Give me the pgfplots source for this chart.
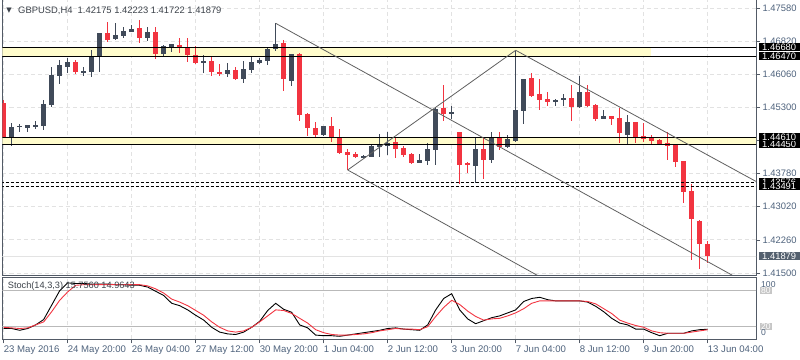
\documentclass[border=0pt]{standalone}
\usepackage{pgfplots}
\pgfplotsset{compat=1.18}
\usepackage{pgfplotstable}
\usepackage{fontspec}
\setmainfont{Liberation Sans}
\newfontfamily\symfont{DejaVu Sans}

\definecolor{bullc}{RGB}{64,74,89}
\definecolor{bearc}{RGB}{242,52,64}
\definecolor{bandc}{RGB}{255,252,204}
\definecolor{gridc}{RGB}{226,226,226}
\definecolor{axc}{RGB}{82,90,102}
\definecolor{labc}{RGB}{78,98,124}
\definecolor{trendc}{RGB}{95,95,95}
\definecolor{curbox}{RGB}{84,96,110}
\definecolor{titc}{RGB}{60,66,74}

\pgfplotstableread{
k o h l c
1 1.44620 1.44941 1.44414 1.44850
2 1.44850 1.44918 1.44735 1.44872
3 1.44827 1.44907 1.44735 1.44895
4 1.44850 1.44987 1.44804 1.44895
5 1.44872 1.45469 1.44781 1.45377
6 1.45354 1.46226 1.45308 1.46043
7 1.46020 1.46387 1.45836 1.46272
8 1.46226 1.46433 1.46089 1.46341
10 1.46111 1.46226 1.46020 1.46134
11 1.46111 1.46616 1.45997 1.46479
12 1.46479 1.47006 1.46111 1.47006
14 1.46869 1.47236 1.46846 1.46961
15 1.46938 1.47144 1.46892 1.47052
16 1.47029 1.47190 1.47029 1.47098
18 1.46892 1.47144 1.46823 1.47029
20 1.46525 1.46731 1.46456 1.46708
21 1.46685 1.46754 1.46570 1.46754
25 1.46318 1.46502 1.46089 1.46364
28 1.46066 1.46318 1.45997 1.46157
30 1.45951 1.46364 1.45859 1.46180
31 1.46157 1.46479 1.46089 1.46341
32 1.46318 1.46433 1.46295 1.46387
33 1.46364 1.46685 1.46272 1.46639
34 1.46639 1.47236 1.46593 1.46754
36 1.45905 1.46525 1.45790 1.46525
40 1.44666 1.44872 1.44643 1.44872
45 1.44161 1.44207 1.44138 1.44184
46 1.44161 1.44436 1.44161 1.44414
47 1.44391 1.44689 1.44161 1.44436
48 1.44414 1.44735 1.44207 1.44482
52 1.44023 1.44230 1.44023 1.44092
53 1.44069 1.44482 1.43978 1.44345
54 1.44322 1.45308 1.43978 1.45262
56 1.45171 1.45331 1.45033 1.45194
59 1.43955 1.44620 1.43564 1.44345
61 1.44092 1.44735 1.44023 1.44620
63 1.44391 1.44666 1.44368 1.44574
64 1.44528 1.46593 1.44505 1.45240
65 1.45217 1.45951 1.44918 1.45951
69 1.45446 1.45492 1.45331 1.45469
70 1.45469 1.45607 1.45331 1.45515
72 1.45308 1.46020 1.45285 1.45653
75 1.45033 1.45240 1.45033 1.45102
78 1.44666 1.45125 1.44459 1.44964
}\bulltab

\pgfplotstableread{
k o h l c
0 1.45400 1.45469 1.44597 1.44620
9 1.46341 1.46387 1.46066 1.46111
13 1.47006 1.47259 1.46800 1.46846
17 1.47121 1.47305 1.46777 1.46892
19 1.47029 1.47144 1.46410 1.46525
22 1.46731 1.46892 1.46547 1.46662
23 1.46685 1.46892 1.46341 1.46502
24 1.46502 1.46708 1.46295 1.46318
26 1.46364 1.46456 1.46020 1.46111
27 1.46111 1.46295 1.46020 1.46089
29 1.46157 1.46226 1.45928 1.45951
35 1.46777 1.46846 1.45676 1.45951
37 1.46525 1.46547 1.44987 1.45125
38 1.45148 1.45171 1.44643 1.44827
39 1.44827 1.44964 1.44620 1.44666
41 1.44872 1.45079 1.44505 1.44620
42 1.44620 1.44804 1.44230 1.44253
43 1.44276 1.44345 1.43863 1.44207
44 1.44230 1.44276 1.44138 1.44161
49 1.44505 1.44620 1.44138 1.44345
50 1.44368 1.44414 1.44161 1.44207
51 1.44230 1.44253 1.44000 1.44023
55 1.45285 1.45813 1.44987 1.45148
57 1.44735 1.44735 1.43542 1.43978
58 1.44023 1.44046 1.43794 1.43978
60 1.44345 1.44597 1.43656 1.44092
62 1.44620 1.44735 1.44322 1.44391
66 1.45974 1.46089 1.45538 1.45561
67 1.45607 1.45951 1.45240 1.45469
68 1.45492 1.45653 1.45331 1.45423
71 1.45515 1.45813 1.44987 1.45308
73 1.45653 1.45813 1.45308 1.45331
74 1.45354 1.45377 1.44987 1.45033
76 1.45102 1.45102 1.44895 1.45033
77 1.45056 1.45285 1.44482 1.44712
79 1.44964 1.44964 1.44482 1.44620
80 1.44643 1.44941 1.44505 1.44574
81 1.44620 1.44666 1.44436 1.44528
82 1.44551 1.44574 1.44436 1.44459
83 1.44482 1.44735 1.44092 1.44414
84 1.44436 1.44459 1.43932 1.44046
85 1.44069 1.44069 1.43106 1.43358
86 1.43381 1.43542 1.41798 1.42738
87 1.42693 1.42716 1.41591 1.42165
88 1.42175 1.42223 1.41722 1.41879
}\beartab

\pgfplotstableread{
k K D
0 17 19
1 17 18
2 14 17
3 17 18
4 23 23
5 32 28
6 56 45
7 80 64
8 93 78
9 92 89
10 92 90
11 91 90
12 91 90
13 91 90
14 90 90
15 90 90
16 89 90
17 89 90
18 86 88
19 79 83
20 72 76
21 59 66
22 55 61
23 48 55
24 39 47
25 31 39
26 19 28
27 11 19
28 8 13
29 7 11
30 11 13
31 19 19
32 29 28
33 47 38
34 59 48
35 49 47
36 44 42
37 23 34
38 18 26
39 6 15
40 5 10
41 5 7
42 4 6
43 6 6
44 8 7
45 10 8
46 12 10
47 14 13
48 17 15
49 18 17
50 16 16
51 15 16
52 14 15
53 23 20
54 48 37
55 67 52
56 75 64
57 48 57
58 33 46
59 25 37
60 30 31
61 35 33
62 38 34
63 43 38
64 48 43
65 62 50
66 67 59
67 69 63
68 65 63
69 63 63
70 63 63
71 63 63
72 63 63
73 61 62
74 54 58
75 45 50
76 34 42
77 26 31
78 23 26
79 16 22
80 16 19
81 10 13
82 5 10
83 9 9
84 9 9
85 9 9
86 13 11
87 15 13
88 15.756 14.964
}\stochtab

\pgfplotsset{
  wick/.style={draw=none, mark=none, forget plot,
    error bars/.cd, y dir=both, y explicit, error mark=none,
    error bar style={line width=1bp, draw=#1}},
  body/.style={draw=none, mark=none, forget plot,
    error bars/.cd, y dir=both, y explicit, error mark=none,
    error bar style={line width=5bp, draw=#1}},
}

\begin{document}
\begin{tikzpicture}
\path[use as bounding box] (0,0) rectangle (800bp,360bp);

% ---------------- main price panel ----------------
\begin{axis}[
  at={(2.5bp,85bp)}, anchor=south west,
  width=753.5bp, height=276bp, scale only axis,
  xmin=-0.15, xmax=94.04,
  ymin=1.41453, ymax=1.47787,
  clip mode=individual,
  axis line style={draw=axc, line width=0.8bp},
  xtick={0,8,...,88}, xticklabels={},
  xtick style={draw=none},
  ytick={1.41500,1.42260,1.43020,1.43780,1.44540,1.45300,1.46060,1.46820,1.47580},
  yticklabels={1.41500,1.42260,1.43020,1.43780,{},1.45300,1.46060,1.46820,1.47580},
  ytick pos=right, yticklabel pos=right,
  tick align=outside, major tick length=4bp,
  ytick style={draw=axc, line width=0.6bp},
  yticklabel style={anchor=west, xshift=-1bp, text=labc,
    font=\fontsize{9.4bp}{11bp}\selectfont},
  grid=major,
  grid style={draw=gridc, line width=0.7bp, dash pattern=on 4bp off 3bp},
]
% zones
\addplot[fill=bandc, draw=none, forget plot] coordinates
  {(-1,1.46470) (80.9,1.46470) (80.9,1.46680) (-1,1.46680)};
\addplot[fill=bandc, draw=none, forget plot] coordinates
  {(-1,1.44450) (96,1.44450) (96,1.44610) (-1,1.44610)};
% current price line
\addplot[draw=gray!22, line width=0.8bp] coordinates {(-1,1.41879) (96,1.41879)};
% candles
\addplot[wick=bullc] table[x=k, y expr={(\thisrow{h}+\thisrow{l})/2},
  y error expr={(\thisrow{h}-\thisrow{l})/2}] {\bulltab};
\addplot[wick=bearc] table[x=k, y expr={(\thisrow{h}+\thisrow{l})/2},
  y error expr={(\thisrow{h}-\thisrow{l})/2}] {\beartab};
\addplot[body=bullc] table[x=k, y expr={(\thisrow{o}+\thisrow{c})/2},
  y error expr={max(abs(\thisrow{o}-\thisrow{c})/2,0.00011)}] {\bulltab};
\addplot[body=bearc] table[x=k, y expr={(\thisrow{o}+\thisrow{c})/2},
  y error expr={max(abs(\thisrow{o}-\thisrow{c})/2,0.00011)}] {\beartab};
% horizontal levels
\addplot[black, line width=0.9bp] coordinates {(-1,1.46680) (96,1.46680)};
\addplot[black, line width=0.9bp] coordinates {(-1,1.46470) (96,1.46470)};
\addplot[black, line width=0.9bp] coordinates {(-1,1.44610) (96,1.44610)};
\addplot[black, line width=0.9bp] coordinates {(-1,1.44450) (96,1.44450)};
\addplot[black, line width=0.9bp, dash pattern=on 3bp off 2bp] coordinates {(-1,1.43576) (96,1.43576)};
\addplot[black, line width=0.9bp, dash pattern=on 3bp off 2bp] coordinates {(-1,1.43491) (96,1.43491)};
% trend channel
\addplot[trendc, line width=0.8bp] coordinates {(34,1.47229) (92,1.41354)};
\addplot[trendc, line width=0.8bp] coordinates {(64,1.46610) (96,1.43404)};
\addplot[trendc, line width=0.8bp] coordinates {(43,1.43863) (64,1.46610)};
\addplot[trendc, line width=0.8bp] coordinates {(43,1.43863) (68,1.41313)};

% price tags on the right
\tikzset{tag/.style={fill=black, text=white, anchor=west, inner xsep=3bp,
   inner ysep=0.4bp, text width=35bp, align=left, text height=6.8bp, text depth=0.5bp,
   font=\fontsize{9.4bp}{10bp}\selectfont}}
\node[tag, xshift=3bp] at ({rel axis cs:1,0}|-{axis cs:0,1.46680}) {1.46680};
\node[tag, xshift=3bp] at ({rel axis cs:1,0}|-{axis cs:0,1.46470}) {1.46470};
\node[tag, xshift=3bp] at ({rel axis cs:1,0}|-{axis cs:0,1.44450}) {1.44450};
\node[tag, xshift=3bp] at ({rel axis cs:1,0}|-{axis cs:0,1.44610}) {1.44610};
\node[tag, xshift=3bp] at ({rel axis cs:1,0}|-{axis cs:0,1.43576}) {1.43576};
\node[tag, xshift=3bp] at ({rel axis cs:1,0}|-{axis cs:0,1.43491}) {1.43491};
\node[tag, fill=curbox, xshift=3bp] at ({rel axis cs:1,0}|-{axis cs:0,1.41879}) {1.41879};
\end{axis}

% ---------------- stochastic panel ----------------
\begin{axis}[
  at={(2.5bp,20.7bp)}, anchor=south west,
  width=753.5bp, height=62bp, scale only axis,
  xmin=-0.15, xmax=94.04,
  ymin=-1, ymax=102.3,
  clip mode=individual,
  axis line style={draw=axc, line width=0.8bp},
  xtick={0,8,...,88},
  xticklabels={23 May 2016,24 May 20:00,26 May 04:00,27 May 12:00,30 May 20:00,1 Jun 04:00,2 Jun 12:00,3 Jun 20:00,7 Jun 04:00,8 Jun 12:00,9 Jun 20:00,13 Jun 04:00},
  xtick pos=bottom, tick align=outside, major tick length=4bp,
  xtick style={draw=axc, line width=0.6bp},
  xticklabel style={anchor=north west, inner sep=0pt, xshift=0bp, yshift=-2bp,
    text=labc, font=\fontsize{9.6bp}{11bp}\selectfont},
  ytick=\empty,
  xmajorgrids,
  grid style={draw=gridc, line width=0.7bp, dash pattern=on 4bp off 3bp},
]
\addplot[draw=gray!55, line width=0.8bp] coordinates {(-1,80) (96,80)};
\addplot[draw=gray!55, line width=0.8bp] coordinates {(-1,20) (96,20)};
\addplot[black, line width=0.9bp] table[x=k, y=K] {\stochtab};
\addplot[bearc, line width=0.9bp] table[x=k, y=D] {\stochtab};
\node[anchor=west, inner sep=0pt, text=titc, font=\fontsize{9.2bp}{10bp}\selectfont]
  at (axis cs:0.5,88) {Stoch(14,3,3) 15.7560 14.9643};
\node[anchor=west, inner sep=0pt, text=labc, font=\fontsize{8.6bp}{10bp}\selectfont, xshift=5bp]
  at ({rel axis cs:1,0}|-{axis cs:0,91}) {100};
\node[anchor=west, inner xsep=1.5bp, inner ysep=0.5bp, fill=gray!45, text=white, font=\fontsize{8.6bp}{10bp}\selectfont, xshift=3.5bp]
  at ({rel axis cs:1,0}|-{axis cs:0,80}) {80};
\node[anchor=west, inner xsep=1.5bp, inner ysep=0.5bp, fill=gray!45, text=white, font=\fontsize{8.6bp}{10bp}\selectfont, xshift=3.5bp]
  at ({rel axis cs:1,0}|-{axis cs:0,20}) {20};
\node[anchor=west, inner sep=0pt, text=labc, font=\fontsize{8.6bp}{10bp}\selectfont, xshift=5bp]
  at ({rel axis cs:1,0}|-{axis cs:0,11}) {0};
\end{axis}

% title
\node[anchor=center, inner sep=0pt, text=titc, font=\symfont\fontsize{7bp}{8bp}\selectfont] at (9bp,349.5bp) {▼};
\node[anchor=west, inner sep=0pt, text=titc, font=\fontsize{9.4bp}{11bp}\selectfont] at (18bp,349.5bp) {GBPUSD,H4\ \ 1.42175 1.42223 1.41722 1.41879};
\end{tikzpicture}
\end{document}
